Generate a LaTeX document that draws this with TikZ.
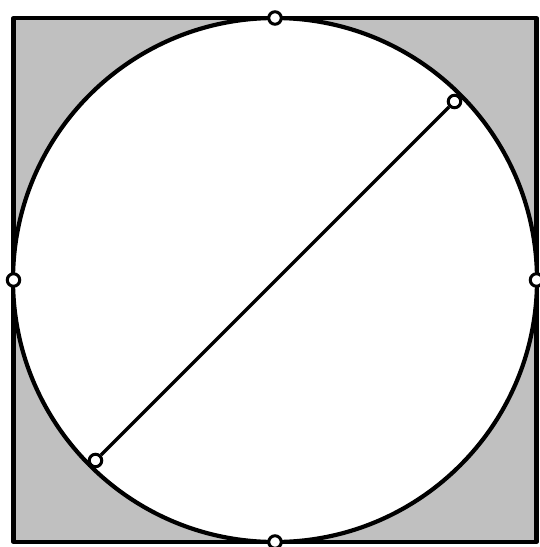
\documentclass[tikz,border=0pt]{standalone}
\definecolor{silvergray}{RGB}{192,192,192}
\begin{document}
\begin{tikzpicture}[x=1pt,y=-1pt,
  dot/.style={circle,draw=black,fill=white,line width=3pt,minimum size=12.5pt,inner sep=0pt},
  outline/.style={draw=black,line width=4.2pt}]
\useasboundingbox (0,0) rectangle (540,547);
\coordinate (c) at (275,280);
\draw[outline,fill=silvergray,line join=round] (13.5,18) rectangle (536.5,542);
\draw[outline,fill=white] (c) circle[radius=262];
\node[dot] (top) at (275,18) {};
\node[dot] (left) at (13.5,280) {};
\node[dot] (right) at (536.5,280) {};
\node[dot] (bottom) at (275,542) {};
\node[dot] (ne) at (454.5,101.5) {};
\node[dot] (sw) at (95.5,460.5) {};
\draw[line width=3.4pt] (sw) -- (ne);
\end{tikzpicture}
\end{document}
